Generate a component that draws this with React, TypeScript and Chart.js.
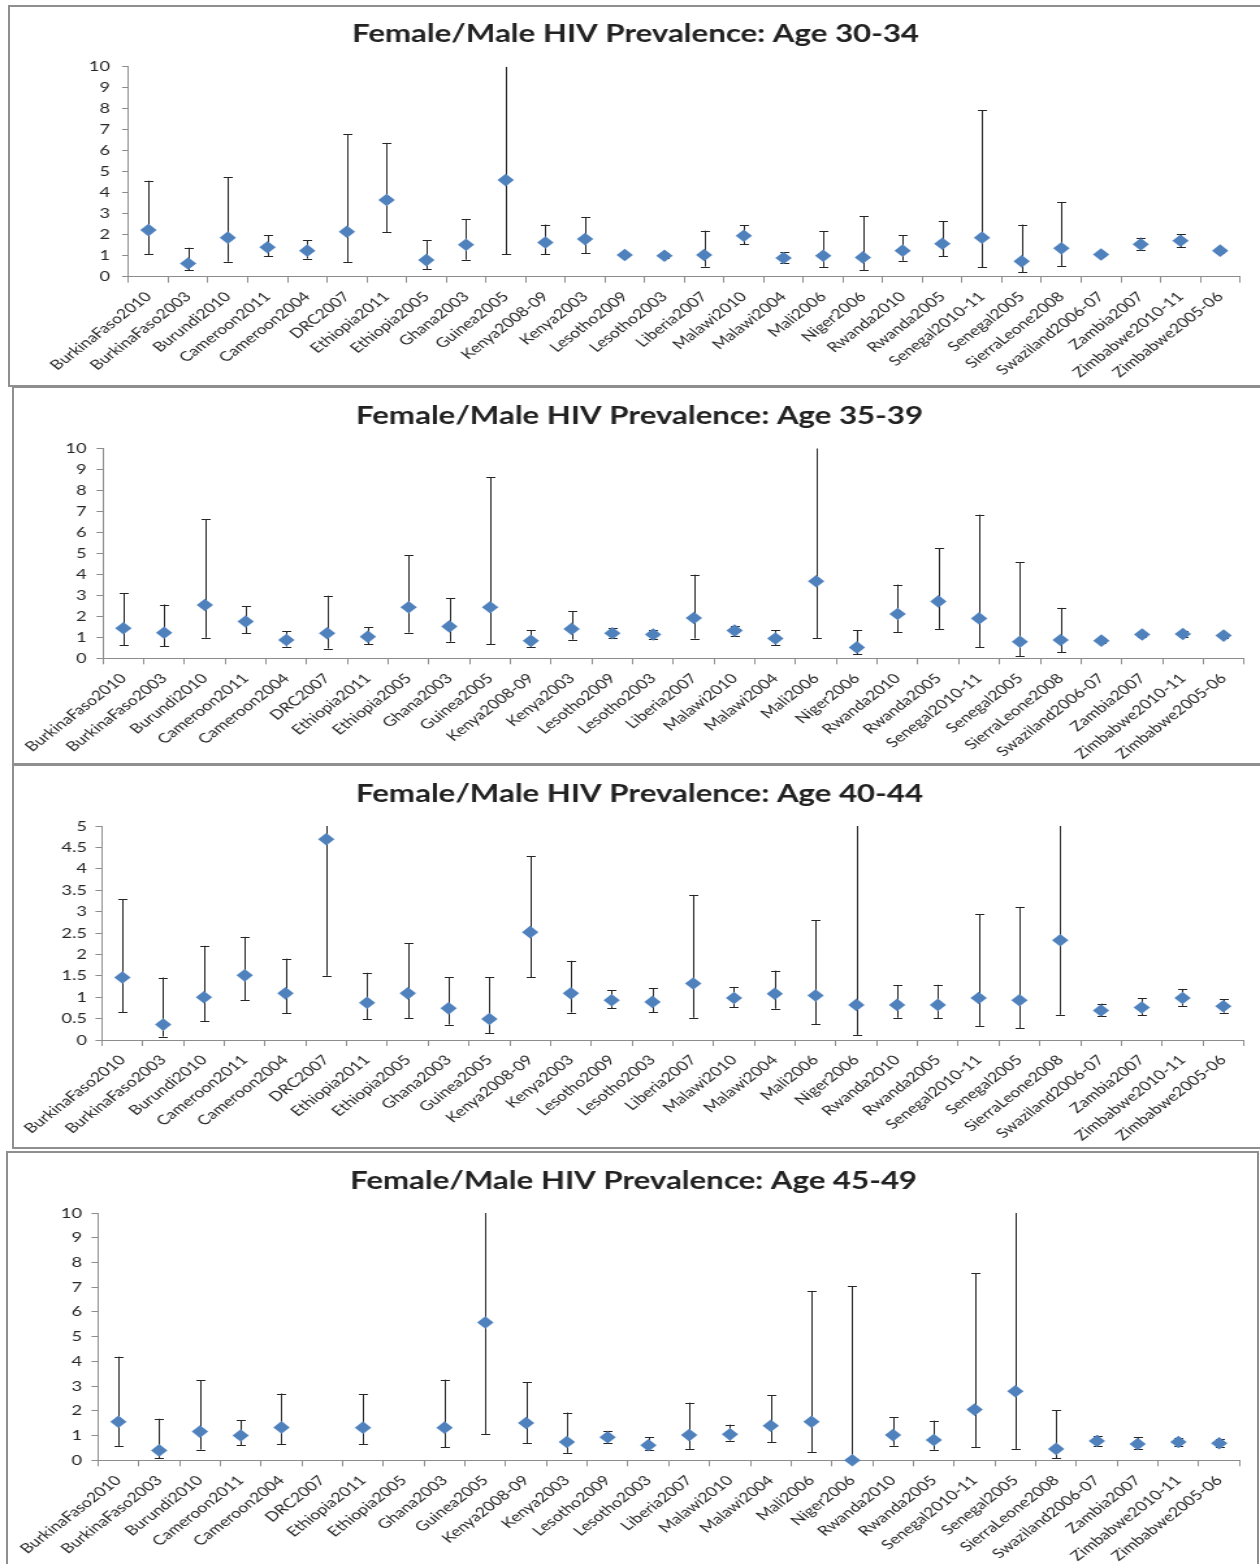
import React, { useEffect, useRef } from "react";
import { Chart, registerables } from "chart.js";

Chart.register(...registerables);

// ---------------- data ----------------
const categories = [
  "BurkinaFaso2010", "BurkinaFaso2003", "Burundi2010", "Cameroon2011", "Cameroon2004",
  "DRC2007", "Ethiopia2011", "Ethiopia2005", "Ghana2003", "Guinea2005",
  "Kenya2008-09", "Kenya2003", "Lesotho2009", "Lesotho2003", "Liberia2007",
  "Malawi2010", "Malawi2004", "Mali2006", "Niger2006", "Rwanda2010",
  "Rwanda2005", "Senegal2010-11", "Senegal2005", "SierraLeone2008", "Swaziland2006-07",
  "Zambia2007", "Zimbabwe2010-11", "Zimbabwe2005-06",
];

const age3034Ratio = [2.22, 0.63, 1.86, 1.40, 1.24, 2.14, 3.65, 0.79, 1.52, 4.60, 1.63, 1.79, 1.03, 1.00, 1.03, 1.95, 0.89, 1.00, 0.92, 1.24, 1.57, 1.86, 0.73, 1.35, 1.06, 1.54, 1.71, 1.24];
const age3034Low = [1.08, 0.32, 0.71, 0.97, 0.86, 0.68, 2.11, 0.35, 0.81, 1.06, 1.08, 1.11, 0.95, 0.90, 0.48, 1.54, 0.65, 0.46, 0.32, 0.76, 0.97, 0.44, 0.22, 0.51, 0.98, 1.25, 1.41, 1.15];
const age3034High = [4.57, 1.38, 4.73, 1.97, 1.73, 6.78, 6.37, 1.73, 2.75, 10, 2.48, 2.83, 1.12, 1.12, 2.19, 2.44, 1.17, 2.17, 2.89, 1.97, 2.65, 7.92, 2.48, 3.56, 1.13, 1.86, 2.02, 1.33];

const age3539Ratio = [1.43, 1.22, 2.54, 1.75, 0.87, 1.19, 1.03, 2.43, 1.52, 2.43, 0.83, 1.40, 1.19, 1.13, 1.92, 1.32, 0.94, 3.67, 0.52, 2.11, 2.71, 1.90, 0.79, 0.87, 0.84, 1.13, 1.16, 1.08];
const age3539Low = [0.62, 0.57, 0.98, 1.19, 0.56, 0.46, 0.68, 1.22, 0.79, 0.68, 0.54, 0.89, 0.98, 0.94, 0.94, 1.06, 0.63, 0.97, 0.19, 1.25, 1.40, 0.52, 0.11, 0.29, 0.75, 1.00, 1.03, 0.97];
const age3539High = [3.11, 2.56, 6.62, 2.49, 1.29, 2.98, 1.48, 4.90, 2.86, 8.62, 1.35, 2.24, 1.44, 1.37, 3.98, 1.56, 1.33, 10, 1.33, 3.51, 5.24, 6.84, 4.57, 2.40, 0.95, 1.27, 1.29, 1.19];

const age4044Ratio = [1.46, 0.36, 1.00, 1.51, 1.09, 4.69, 0.87, 1.09, 0.74, 0.49, 2.52, 1.09, 0.93, 0.89, 1.32, 0.98, 1.08, 1.04, 0.82, 0.82, 0.82, 0.98, 0.93, 2.33, 0.69, 0.76, 0.98, 0.79];
const age4044Low = [0.65, 0.08, 0.44, 0.93, 0.62, 1.50, 0.49, 0.51, 0.36, 0.16, 1.47, 0.64, 0.74, 0.65, 0.52, 0.76, 0.73, 0.37, 0.12, 0.52, 0.51, 0.33, 0.28, 0.59, 0.56, 0.58, 0.80, 0.64];
const age4044High = [3.29, 1.46, 2.20, 2.41, 1.90, 5, 1.57, 2.26, 1.47, 1.47, 4.30, 1.85, 1.16, 1.21, 3.39, 1.24, 1.62, 2.80, 5, 1.28, 1.29, 2.94, 3.11, 5, 0.85, 0.98, 1.19, 0.95];

const age4549Ratio = [1.56, 0.40, 1.16, 1.00, 1.33, null, 1.32, null, 1.32, 5.57, 1.51, 0.74, 0.93, 0.61, 1.02, 1.05, 1.40, 1.56, 0, 1.02, 0.82, 2.05, 2.79, 0.46, 0.78, 0.66, 0.74, 0.69];
const age4549Low = [0.58, 0.09, 0.43, 0.62, 0.66, null, 0.66, null, 0.53, 1.05, 0.70, 0.30, 0.70, 0.40, 0.46, 0.80, 0.73, 0.34, 0, 0.59, 0.43, 0.54, 0.46, 0.08, 0.57, 0.46, 0.59, 0.55];
const age4549High = [4.19, 1.68, 3.23, 1.62, 2.70, null, 2.67, null, 3.26, 10, 3.15, 1.93, 1.19, 0.93, 2.33, 1.44, 2.64, 6.85, 7.04, 1.74, 1.60, 7.57, 10, 2.02, 1.00, 0.93, 0.89, 0.86];

const titles = [
  "Female/Male HIV Prevalence: Age 30-34",
  "Female/Male HIV Prevalence: Age 35-39",
  "Female/Male HIV Prevalence: Age 40-44",
  "Female/Male HIV Prevalence: Age 45-49",
];
const yMaxes = [10, 10, 5, 10];
const ySteps = [1, 1, 0.5, 1];

// ---------------- layout / style ----------------
const PAGE_W = 1260;
const CANVAS_W = 969;
const STRETCH = PAGE_W / CANVAS_W;
const FONT = "Lato, 'Open Sans', sans-serif";
const AXIS_COLOR = "#8c8c8c";
const TEXT_COLOR = "#262626";
const MARKER_COLOR = "#4F81BD";
const BAR_COLOR = "#262626";
const BORDER_COLOR = "#8f8f8f";

type Layout = {
  boxLeft: number; boxTop: number; boxWidth: number; boxHeight: number;
  canvasTop: number; canvasH: number;
  titleX: number; titleY: number;
  chartLeft: number; chartRight: number; chartTop: number; chartBottom: number;
  yGap: number;
};

const layouts: Layout[] = [
  { boxLeft: 8, boxTop: 5, boxWidth: 1270, boxHeight: 382, canvasTop: 5, canvasH: 381, titleX: 635.5, titleY: 33, chartLeft: 128.6, chartRight: 1240, chartTop: 66.7, chartBottom: 276.7, yGap: 18.6 },
  { boxLeft: 12, boxTop: 386, boxWidth: 1270, boxHeight: 379, canvasTop: 386, canvasH: 378, titleX: 639.5, titleY: 415, chartLeft: 103, chartRight: 1244, chartTop: 448.3, chartBottom: 658.3, yGap: 16.5 },
  { boxLeft: 12, boxTop: 764, boxWidth: 1270, boxHeight: 385, canvasTop: 764, canvasH: 384, titleX: 639.5, titleY: 793, chartLeft: 102, chartRight: 1243.7, chartTop: 826, chartBottom: 1040, yGap: 15 },
  { boxLeft: 6, boxTop: 1151, boxWidth: 1253, boxHeight: 430, canvasTop: 1152, canvasH: 412, titleX: 633.5, titleY: 1180, chartLeft: 98, chartRight: 1239.6, chartTop: 1213, chartBottom: 1460.3, yGap: 16 },
];

const errorBarPlugin = {
  id: "errorBars",
  beforeDatasetsDraw(chart: any, _args: any, opts: any) {
    const { ctx, chartArea, scales } = chart;
    const xs = scales.x;
    const ys = scales.y;
    const low: (number | null)[] = opts.low;
    const high: (number | null)[] = opts.high;
    const capHalf = 3.5;
    ctx.save();
    ctx.beginPath();
    ctx.rect(chartArea.left - 10, chartArea.top, chartArea.width + 20, chartArea.height + 1);
    ctx.clip();
    ctx.strokeStyle = opts.color;
    ctx.lineWidth = 1;
    for (let i = 0; i < low.length; i++) {
      const lo = low[i];
      const hi = high[i];
      if (lo == null || hi == null) continue;
      const px = Math.round(xs.getPixelForValue(i)) + 0.5;
      const yl = ys.getPixelForValue(Math.max(lo, ys.min));
      const yh = ys.getPixelForValue(Math.min(hi, ys.max));
      ctx.beginPath();
      ctx.moveTo(px, yl);
      ctx.lineTo(px, yh);
      if (lo > ys.min) {
        const y = Math.round(yl) + 0.5;
        ctx.moveTo(px - capHalf, y);
        ctx.lineTo(px + capHalf, y);
      }
      if (hi < ys.max) {
        const y = Math.round(yh) + 0.5;
        ctx.moveTo(px - capHalf, y);
        ctx.lineTo(px + capHalf, y);
      }
      ctx.stroke();
    }
    ctx.restore();
  },
};

function Panel({ idx }: { idx: number }) {
  const ref = useRef<HTMLCanvasElement | null>(null);
  const L = layouts[idx];

  useEffect(() => {
    if (!ref.current) return;
    const left = L.chartLeft / STRETCH;
    const right = L.chartRight / STRETCH;
    const padR = CANVAS_W - right;
    const tc = L.titleX / STRETCH;
    const padL = 2 * tc - CANVAS_W + padR;
    const yW = left - padL;
    const TS = 24;
    const LH = 1.2;
    const tRel = L.titleY - L.canvasTop;
    const cTop = L.chartTop - L.canvasTop;
    const cBot = L.chartBottom - L.canvasTop;
    const layoutTop = tRel - (TS * LH) / 2 + 1;
    const titlePadBottom = cTop - layoutTop - TS * LH;
    const xH = L.canvasH - cBot;
    const yTl = 5;
    const yPad = L.yGap / STRETCH - yTl;

    const ratio = [age3034Ratio, age3539Ratio, age4044Ratio, age4549Ratio][idx];
    const low = [age3034Low, age3539Low, age4044Low, age4549Low][idx];
    const high = [age3034High, age3539High, age4044High, age4549High][idx];

    const chart = new Chart(ref.current, {
      type: "line",
      data: {
        labels: categories,
        datasets: [
          {
            data: ratio as any,
            showLine: false,
            pointStyle: "rectRot",
            pointRadius: 6.3,
            pointHoverRadius: 6.3,
            pointBackgroundColor: MARKER_COLOR,
            pointBorderColor: MARKER_COLOR,
            pointBorderWidth: 0,
            clip: false as any,
          },
        ],
      },
      options: {
        responsive: false,
        animation: false,
        events: [],
        layout: { padding: { left: padL, right: padR, top: layoutTop, bottom: 0 } },
        plugins: {
          legend: { display: false },
          tooltip: { enabled: false },
          title: {
            display: true,
            text: titles[idx],
            color: "#222222",
            font: { family: FONT, size: TS, weight: "bold", lineHeight: LH },
            padding: { top: 0, bottom: titlePadBottom },
          },
          errorBars: { low, high, color: BAR_COLOR },
        } as any,
        scales: {
          x: {
            type: "category",
            offset: true,
            grid: { offset: true, drawOnChartArea: false, drawTicks: true, tickLength: 6, color: AXIS_COLOR },
            border: { color: AXIS_COLOR, width: 1 },
            ticks: {
              autoSkip: false,
              maxRotation: 45,
              minRotation: 45,
              padding: 6,
              color: TEXT_COLOR,
              font: { family: FONT, size: 13.5 },
            },
            afterFit: (s: any) => {
              s.height = xH;
              s.paddingLeft = 0;
              s.paddingRight = 0;
            },
          },
          y: {
            min: 0,
            max: yMaxes[idx],
            grid: { drawOnChartArea: false, drawTicks: true, tickLength: yTl, color: AXIS_COLOR },
            border: { color: AXIS_COLOR, width: 1 },
            ticks: {
              stepSize: ySteps[idx],
              padding: yPad,
              color: TEXT_COLOR,
              font: { family: FONT, size: 14 },
              callback: (v: any) => String(Math.round(Number(v) * 100) / 100),
            },
            afterFit: (s: any) => {
              s.width = yW;
              s.paddingTop = 0;
              s.paddingBottom = 0;
            },
          },
        },
      },
      plugins: [errorBarPlugin as any],
    });
    return () => chart.destroy();
  }, [idx]);

  return (
    <>
      <div
        style={{
          position: "absolute",
          left: L.boxLeft,
          top: L.boxTop,
          width: L.boxWidth,
          height: L.boxHeight,
          border: `2px solid ${BORDER_COLOR}`,
          boxSizing: "border-box",
          background: "#ffffff",
        }}
      />
      <canvas
        ref={ref}
        width={CANVAS_W}
        height={L.canvasH}
        style={{
          position: "absolute",
          left: 0,
          top: L.canvasTop,
          width: CANVAS_W,
          height: L.canvasH,
          transform: `scaleX(${STRETCH})`,
          transformOrigin: "0 0",
        }}
      />
    </>
  );
}

export default function App() {
  return (
    <div
      style={{
        position: "absolute",
        left: 0,
        top: 0,
        width: PAGE_W,
        height: 1564,
        overflow: "hidden",
        background: "#ffffff",
      }}
    >
      {[0, 1, 2, 3].map((i) => (
        <Panel key={i} idx={i} />
      ))}
    </div>
  );
}
